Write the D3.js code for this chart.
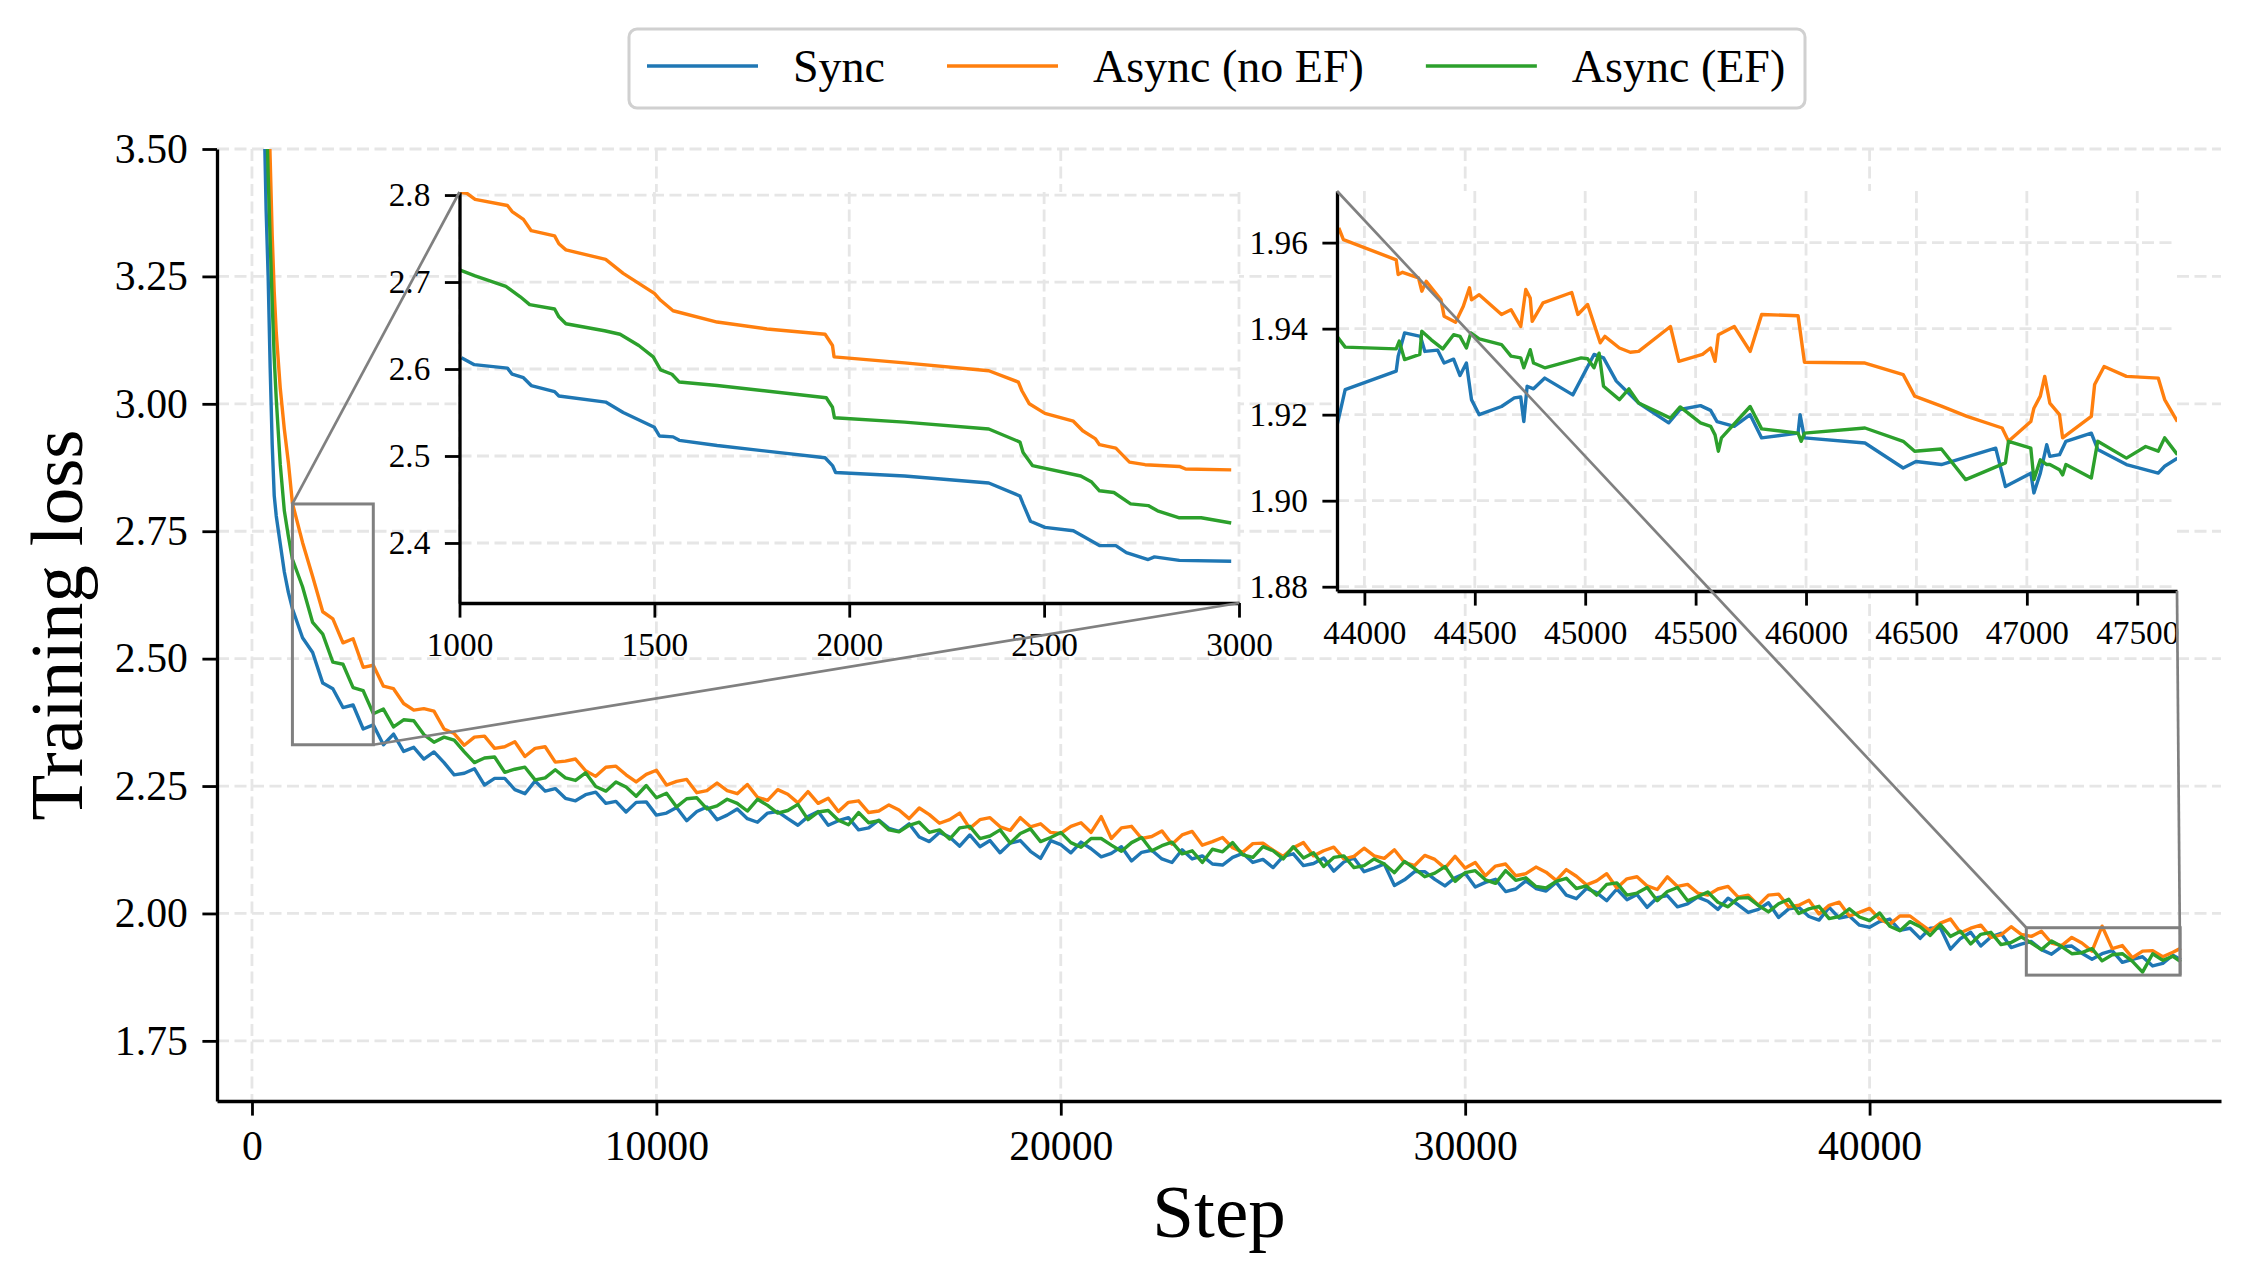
<!DOCTYPE html>
<html>
<head>
<meta charset="utf-8">
<script src="https://cdn.jsdelivr.net/npm/d3@7"></script>
<style>
  body { margin: 0; background: #fff; }
  text { font-family: "Liberation Serif", "Times New Roman", serif; }
</style>
</head>
<body>
<div id="chart"></div>
<script>
// ---------- data ----------
const seriesNames = ["Sync", "Async (no EF)", "Async (EF)"];

const steps = [250, 300, 350, 400, 450, 500, 550, 600, 700, 800, 900,
  1000, 1250, 1500, 1750, 2000, 2250, 2500, 2750, 3000, 3250, 3500, 3750,
  4000, 4250, 4500, 4750, 5000, 5250, 5500, 5750, 6000, 6250, 6500, 6750, 7000, 7250, 7500, 7750,
  8000, 8250, 8500, 8750, 9000, 9250, 9500, 9750, 10000, 10250, 10500, 10750, 11000, 11250, 11500, 11750,
  12000, 12250, 12500, 12750, 13000, 13250, 13500, 13750, 14000, 14250, 14500, 14750, 15000, 15250, 15500, 15750,
  16000, 16250, 16500, 16750, 17000, 17250, 17500, 17750, 18000, 18250, 18500, 18750, 19000, 19250, 19500, 19750,
  20000, 20250, 20500, 20750, 21000, 21250, 21500, 21750, 22000, 22250, 22500, 22750, 23000, 23250, 23500, 23750,
  24000, 24250, 24500, 24750, 25000, 25250, 25500, 25750, 26000, 26250, 26500, 26750, 27000, 27250, 27500, 27750,
  28000, 28250, 28500, 28750, 29000, 29250, 29500, 29750, 30000, 30250, 30500, 30750, 31000, 31250, 31500, 31750,
  32000, 32250, 32500, 32750, 33000, 33250, 33500, 33750, 34000, 34250, 34500, 34750, 35000, 35250, 35500, 35750,
  36000, 36250, 36500, 36750, 37000, 37250, 37500, 37750, 38000, 38250, 38500, 38750, 39000, 39250, 39500, 39750,
  40000, 40250, 40500, 40750, 41000, 41250, 41500, 41750, 42000, 42250, 42500, 42750, 43000, 43250, 43500, 43750,
  44000, 44250, 44500, 44750, 45000, 45250, 45500, 45750, 46000, 46250, 46500, 46750, 47000, 47250, 47500, 47700];

const lossSync = [3.80, 3.57, 3.38, 3.25, 3.07, 2.92, 2.82, 2.78, 2.725, 2.67, 2.63,
  2.598, 2.541, 2.512, 2.452, 2.441, 2.404, 2.409, 2.362, 2.37, 2.331, 2.352, 2.318,
  2.326, 2.303, 2.317, 2.296, 2.272, 2.275, 2.284, 2.252, 2.265, 2.265, 2.243, 2.235, 2.26, 2.24, 2.245, 2.226,
  2.221, 2.233, 2.238, 2.216, 2.22, 2.199, 2.218, 2.219, 2.193, 2.197, 2.208, 2.182, 2.2, 2.209, 2.184, 2.193,
  2.205, 2.186, 2.179, 2.197, 2.2, 2.186, 2.173, 2.19, 2.2, 2.173, 2.182, 2.188, 2.164, 2.168, 2.183, 2.167,
  2.161, 2.176, 2.15, 2.141, 2.159, 2.15, 2.132, 2.154, 2.131, 2.143, 2.119, 2.138, 2.143, 2.122, 2.108, 2.143,
  2.135, 2.119, 2.14, 2.127, 2.111, 2.118, 2.131, 2.103, 2.12, 2.124, 2.107, 2.1, 2.125, 2.107, 2.113, 2.097,
  2.095, 2.11, 2.118, 2.1, 2.106, 2.09, 2.112, 2.117, 2.094, 2.098, 2.109, 2.083, 2.101, 2.109, 2.082, 2.089,
  2.097, 2.055, 2.066, 2.082, 2.082, 2.067, 2.054, 2.07, 2.079, 2.052, 2.061, 2.067, 2.043, 2.048, 2.064, 2.049,
  2.044, 2.061, 2.036, 2.029, 2.049, 2.041, 2.025, 2.048, 2.027, 2.037, 2.012, 2.031, 2.035, 2.013, 2.019, 2.032,
  2.024, 2.008, 2.03, 2.017, 2.002, 2.008, 2.021, 1.992, 2.009, 2.012, 1.994, 1.987, 2.012, 1.991, 1.995, 1.977,
  1.973, 1.984, 1.989, 1.967, 1.971, 1.951, 1.971, 1.972, 1.93, 1.951, 1.963, 1.936, 1.954, 1.961, 1.933, 1.94,
  1.945, 1.929, 1.92, 1.935, 1.936, 1.922, 1.91, 1.921, 1.927, 1.904, 1.91, 1.915, 1.897, 1.902, 1.918, 1.909];

const lossAsyncNoEF = [4.30, 4.00, 3.80, 3.62, 3.48, 3.33, 3.22, 3.14, 3.03, 2.95, 2.885,
  2.805, 2.728, 2.661, 2.592, 2.578, 2.531, 2.539, 2.483, 2.487, 2.446, 2.441, 2.412,
  2.399, 2.402, 2.397, 2.362, 2.353, 2.33, 2.346, 2.348, 2.324, 2.327, 2.337, 2.308, 2.324, 2.327, 2.297, 2.299,
  2.303, 2.28, 2.269, 2.287, 2.289, 2.272, 2.258, 2.273, 2.281, 2.252, 2.259, 2.263, 2.237, 2.241, 2.256, 2.241,
  2.235, 2.253, 2.228, 2.222, 2.243, 2.234, 2.217, 2.239, 2.216, 2.226, 2.2, 2.218, 2.221, 2.198, 2.201, 2.213,
  2.203, 2.186, 2.207, 2.194, 2.177, 2.184, 2.197, 2.167, 2.184, 2.188, 2.17, 2.163, 2.188, 2.17, 2.176, 2.159,
  2.157, 2.171, 2.178, 2.159, 2.19, 2.147, 2.168, 2.171, 2.147, 2.151, 2.162, 2.136, 2.154, 2.161, 2.134, 2.141,
  2.149, 2.129, 2.12, 2.137, 2.138, 2.124, 2.112, 2.129, 2.139, 2.113, 2.123, 2.13, 2.107, 2.112, 2.128, 2.113,
  2.108, 2.125, 2.1, 2.094, 2.114, 2.106, 2.089, 2.112, 2.089, 2.1, 2.074, 2.093, 2.097, 2.074, 2.078, 2.091,
  2.081, 2.065, 2.086, 2.073, 2.056, 2.064, 2.078, 2.05, 2.068, 2.072, 2.054, 2.047, 2.072, 2.053, 2.057, 2.04,
  2.036, 2.048, 2.053, 2.032, 2.036, 2.016, 2.036, 2.038, 2.013, 2.016, 2.026, 1.999, 2.016, 2.022, 1.995, 2.002,
  2.01, 1.989, 1.979, 1.995, 1.995, 1.98, 1.966, 1.981, 1.989, 1.962, 1.971, 1.977, 1.953, 1.958, 1.974, 1.959,
  1.955, 1.965, 1.942, 1.937, 1.953, 1.942, 1.926, 1.975, 1.931, 1.937, 1.913, 1.926, 1.927, 1.915, 1.924, 1.932];

const lossAsyncEF = [4.00, 3.80, 3.60, 3.45, 3.32, 3.20, 3.09, 3.01, 2.88, 2.79, 2.74,
  2.695, 2.641, 2.571, 2.548, 2.493, 2.489, 2.443, 2.437, 2.392, 2.401, 2.366, 2.38,
  2.378, 2.351, 2.336, 2.346, 2.34, 2.317, 2.296, 2.305, 2.307, 2.277, 2.283, 2.287, 2.262, 2.266, 2.282, 2.266,
  2.261, 2.276, 2.249, 2.24, 2.258, 2.248, 2.23, 2.251, 2.227, 2.236, 2.209, 2.225, 2.227, 2.205, 2.211, 2.224,
  2.216, 2.201, 2.224, 2.212, 2.197, 2.202, 2.214, 2.184, 2.199, 2.202, 2.183, 2.174, 2.198, 2.178, 2.182, 2.164,
  2.16, 2.173, 2.179, 2.159, 2.164, 2.146, 2.168, 2.171, 2.147, 2.152, 2.164, 2.138, 2.157, 2.166, 2.141, 2.149,
  2.159, 2.139, 2.13, 2.147, 2.147, 2.134, 2.122, 2.139, 2.149, 2.123, 2.133, 2.14, 2.117, 2.123, 2.1, 2.126,
  2.121, 2.139, 2.115, 2.11, 2.131, 2.123, 2.107, 2.131, 2.109, 2.119, 2.092, 2.11, 2.113, 2.09, 2.094, 2.107,
  2.097, 2.08, 2.102, 2.088, 2.072, 2.079, 2.092, 2.063, 2.08, 2.084, 2.066, 2.059, 2.084, 2.065, 2.07, 2.053,
  2.05, 2.063, 2.069, 2.049, 2.054, 2.036, 2.057, 2.06, 2.036, 2.04, 2.051, 2.025, 2.043, 2.051, 2.025, 2.033,
  2.042, 2.022, 2.013, 2.03, 2.031, 2.016, 2.003, 2.019, 2.028, 2.0, 2.009, 2.014, 1.99, 1.994, 2.009, 1.993,
  1.986, 2.001, 1.975, 1.966, 1.984, 1.974, 1.957, 1.978, 1.955, 1.965, 1.94, 1.959, 1.963, 1.939, 1.943, 1.954,
  1.942, 1.929, 1.946, 1.935, 1.921, 1.923, 1.931, 1.907, 1.919, 1.921, 1.906, 1.885, 1.921, 1.908, 1.916, 1.905];

// zoom 1: steps 1000-3000
const z1StepsSync = [1005, 1038, 1123, 1135, 1164, 1184, 1244, 1255, 1375, 1420, 1500, 1513, 1548, 1564, 1661,
  1938, 1957, 1965, 2142, 2358, 2438, 2446, 2465, 2502, 2575, 2599, 2642, 2684, 2711, 2767, 2783, 2847, 2980];
const z1LossSync = [2.613, 2.605, 2.601, 2.594, 2.590, 2.581, 2.574, 2.569, 2.562, 2.550, 2.533, 2.523, 2.522, 2.518, 2.512,
  2.498, 2.489, 2.481, 2.477, 2.469, 2.454, 2.445, 2.425, 2.418, 2.414, 2.408, 2.397, 2.397, 2.389, 2.381, 2.384, 2.380, 2.379];
const z1StepsNoEF = [1000, 1019, 1040, 1123, 1135, 1164, 1184, 1244, 1255, 1273, 1375, 1420, 1500, 1516, 1548, 1661,
  1789, 1938, 1957, 1961, 2142, 2358, 2434, 2443, 2462, 2502, 2575, 2599, 2631, 2642, 2684, 2719, 2759, 2847, 2863, 2980];
const z1LossNoEF = [2.803, 2.802, 2.795, 2.788, 2.781, 2.772, 2.759, 2.753, 2.744, 2.737, 2.726, 2.710, 2.687, 2.679, 2.667, 2.654,
  2.646, 2.640, 2.627, 2.614, 2.607, 2.598, 2.585, 2.575, 2.560, 2.549, 2.540, 2.529, 2.520, 2.513, 2.509, 2.493, 2.490, 2.488, 2.485, 2.484];
const z1StepsEF = [1000, 1040, 1119, 1156, 1180, 1244, 1255, 1273, 1372, 1412, 1460, 1497, 1516, 1545, 1564, 1661,
  1941, 1957, 1962, 2142, 2358, 2438, 2446, 2470, 2594, 2622, 2642, 2679, 2722, 2767, 2791, 2847, 2903, 2980];
const z1LossEF = [2.714, 2.707, 2.695, 2.683, 2.674, 2.669, 2.660, 2.652, 2.644, 2.640, 2.627, 2.614, 2.599, 2.594, 2.585, 2.581,
  2.567, 2.556, 2.544, 2.539, 2.531, 2.516, 2.504, 2.489, 2.477, 2.470, 2.460, 2.458, 2.445, 2.443, 2.437, 2.429, 2.429, 2.423];

// zoom 2: steps 43900-47700
const z2StepsSync = [43870, 43913, 44144, 44153, 44182, 44254, 44274, 44332, 44361, 44404, 44433, 44462, 44485, 44520, 44621,
  44679, 44708, 44722, 44737, 44766, 44817, 44944, 45040, 45083, 45141, 45242, 45378, 45430, 45522, 45568, 45597, 45675,
  45747, 45799, 45964, 45973, 45993, 46267, 46440, 46498, 46613, 46859, 46903, 47018, 47032, 47061, 47090, 47104, 47148,
  47177, 47292, 47321, 47451, 47595, 47624, 47682];
const z2LossSync = [1.9161, 1.9258, 1.9301, 1.9336, 1.939, 1.9382, 1.9347, 1.935, 1.932, 1.9329, 1.9291, 1.932, 1.9235, 1.92, 1.9219,
  1.9239, 1.9241, 1.9184, 1.9266, 1.926, 1.9285, 1.9246, 1.934, 1.9332, 1.9278, 1.9227, 1.9181, 1.9212, 1.9221, 1.921, 1.9184, 1.9173,
  1.92, 1.9146, 1.9157, 1.92, 1.9146, 1.9134, 1.9076, 1.9091, 1.9084, 1.9122, 1.9033, 1.9064, 1.9018, 1.9064, 1.913, 1.9103, 1.9107,
  1.9138, 1.9157, 1.9119, 1.9084, 1.9064, 1.908, 1.9099];
const z2StepsNoEF = [43884, 43905, 44144, 44153, 44173, 44245, 44260, 44280, 44347, 44361, 44413, 44448, 44476, 44485, 44520,
  44621, 44664, 44708, 44731, 44751, 44760, 44809, 44939, 44967, 45011, 45068, 45089, 45155, 45204, 45242, 45386, 45424,
  45531, 45568, 45588, 45603, 45675, 45747, 45799, 45964, 45993, 46267, 46440, 46492, 46613, 46729, 46888, 46917, 47018,
  47032, 47061, 47081, 47104, 47148, 47162, 47292, 47307, 47350, 47451, 47595, 47624, 47682];
const z2LossNoEF = [1.9634, 1.9607, 1.956, 1.9526, 1.9531, 1.9518, 1.9487, 1.951, 1.9467, 1.9429, 1.9415, 1.9452, 1.9495, 1.9467, 1.9479,
  1.9433, 1.9444, 1.9405, 1.9491, 1.9471, 1.9417, 1.946, 1.9484, 1.9433, 1.9456, 1.9367, 1.9382, 1.9355, 1.9345, 1.9347, 1.9405, 1.9324,
  1.934, 1.9355, 1.9324, 1.9386, 1.9405, 1.9347, 1.9433, 1.943, 1.9322, 1.932, 1.9293, 1.9243, 1.922, 1.9196, 1.9169, 1.9138, 1.9184,
  1.9215, 1.9243, 1.9289, 1.9227, 1.92, 1.9146, 1.9196, 1.927, 1.9312, 1.9289, 1.9285, 1.9235, 1.9184];
const z2StepsEF = [43876, 43913, 44144, 44158, 44182, 44251, 44260, 44303, 44355, 44404, 44433, 44462, 44482, 44520, 44621,
  44664, 44708, 44722, 44751, 44766, 44817, 44982, 45011, 45040, 45063, 45083, 45155, 45198, 45242, 45386, 45430, 45522,
  45568, 45588, 45603, 45617, 45747, 45799, 45964, 45978, 45993, 46267, 46440, 46492, 46613, 46723, 46903, 46917, 47018,
  47032, 47061, 47090, 47104, 47148, 47162, 47177, 47292, 47321, 47451, 47538, 47595, 47624, 47682];
const z2LossEF = [1.9382, 1.9357, 1.9353, 1.9371, 1.9328, 1.934, 1.9394, 1.9374, 1.9353, 1.9386, 1.9382, 1.9355, 1.939, 1.9376, 1.9363,
  1.9336, 1.9332, 1.9309, 1.9351, 1.932, 1.9309, 1.9332, 1.933, 1.9309, 1.9343, 1.9266, 1.9235, 1.926, 1.9227, 1.9192, 1.9218, 1.9181,
  1.9173, 1.9153, 1.9115, 1.9146, 1.9219, 1.9167, 1.9157, 1.9138, 1.9157, 1.9169, 1.9138, 1.9115, 1.912, 1.9049, 1.9088, 1.9138, 1.9122,
  1.9049, 1.9095, 1.9084, 1.9084, 1.9072, 1.906, 1.9084, 1.9053, 1.9138, 1.9099, 1.9126, 1.9115, 1.9146, 1.9107];

// tick values
const xTicks = [0, 10000, 20000, 30000, 40000];
const yTicks = [1.75, 2.0, 2.25, 2.5, 2.75, 3.0, 3.25, 3.5];
const z1XTicks = [1000, 1500, 2000, 2500, 3000];
const z1YTicks = [2.4, 2.5, 2.6, 2.7, 2.8];
const z2XTicks = [44000, 44500, 45000, 45500, 46000, 46500, 47000, 47500];
const z2YTicks = [1.88, 1.90, 1.92, 1.94, 1.96];

// ---------- layout ----------
const W = 2248, H = 1283;
const colors = ["#1f77b4", "#ff7f0e", "#2ca02c"];
const gridColor = "#e6e6e6";
const serif = '"Liberation Serif", "Times New Roman", serif';
const lineW = 3.4;

const svg = d3.select("#chart").append("svg")
    .attr("width", W)
    .attr("height", H)
    .style("background", "#fff");

const mainBox = { left: 217, right: 2221, top: 149, bottom: 1101 };
const z1Box = { left: 459.5, right: 1239, top: 192, bottom: 603 };
const z2Box = { left: 1337, right: 2177, top: 191, bottom: 591 };

const x = d3.scaleLinear().domain([-865, 48690]).range([mainBox.left, mainBox.right]);
const y = d3.scaleLinear().domain([1.632, 3.5]).range([mainBox.bottom, mainBox.top]);
const x1 = d3.scaleLinear().domain([1000, 3000]).range([z1Box.left, z1Box.right]);
const y1 = d3.scaleLinear().domain([2.331, 2.8035]).range([z1Box.bottom, z1Box.top]);
const x2 = d3.scaleLinear().domain([43876, 47680]).range([z2Box.left, z2Box.right]);
const y2 = d3.scaleLinear().domain([1.879, 1.972]).range([z2Box.bottom, z2Box.top]);

const defs = svg.append("defs");
function clip(id, b) {
    defs.append("clipPath").attr("id", id).append("rect")
        .attr("x", b.left).attr("y", b.top)
        .attr("width", b.right - b.left).attr("height", b.bottom - b.top);
}
clip("clip-main", mainBox);
clip("clip-z1", z1Box);
clip("clip-z2", z2Box);

// dashed grid
function grid(g, xs, ys, xt, yt, b) {
    g.selectAll(null).data(xt).join("line")
        .attr("x1", d => xs(d)).attr("x2", d => xs(d))
        .attr("y1", b.top).attr("y2", b.bottom);
    g.selectAll(null).data(yt).join("line")
        .attr("x1", b.left).attr("x2", b.right)
        .attr("y1", d => ys(d)).attr("y2", d => ys(d));
    g.selectAll("line")
        .attr("stroke", gridColor)
        .attr("stroke-width", 2.8)
        .attr("stroke-dasharray", "12,5.5");
}

function drawLines(g, xs, ys, sets, clipId) {
    const line = d3.line().x(d => xs(d[0])).y(d => ys(d[1]));
    g.attr("clip-path", `url(#${clipId})`)
        .selectAll("path").data(sets).join("path")
        .attr("fill", "none")
        .attr("stroke", (d, i) => colors[i])
        .attr("stroke-width", lineW)
        .attr("stroke-linejoin", "round")
        .attr("d", line);
}

function axes(g, xs, ys, xt, yt, xf, yf, fs, b) {
    const gx = g.append("g").attr("transform", `translate(0,${b.bottom})`)
        .call(d3.axisBottom(xs).tickValues(xt).tickFormat(xf)
            .tickSize(14.6).tickSizeOuter(0).tickPadding(14.6));
    const gy = g.append("g").attr("transform", `translate(${b.left},0)`)
        .call(d3.axisLeft(ys).tickValues(yt).tickFormat(yf)
            .tickSize(14.6).tickSizeOuter(0).tickPadding(14.6));
    [gx, gy].forEach(a => {
        a.attr("font-family", serif).attr("font-size", fs);
        a.select(".domain").attr("stroke", "#000").attr("stroke-width", 3.3);
        a.selectAll(".tick line").attr("stroke", "#000").attr("stroke-width", 2.8);
        a.selectAll(".tick text").attr("fill", "#000");
    });
}

// ---------- main plot ----------
const mainSets = [lossSync, lossAsyncNoEF, lossAsyncEF].map(v => d3.zip(steps, v));
grid(svg.append("g"), x, y, xTicks, yTicks, mainBox);
drawLines(svg.append("g"), x, y, mainSets, "clip-main");

// zoom boxes on the main plot
const zoomRects = [
    { x0: 1000, x1: 3000, y0: 2.331, y1: 2.8035, box: z1Box },
    { x0: 43876, x1: 47680, y0: 1.879, y1: 1.972, box: z2Box }
];
svg.append("g").selectAll("rect").data(zoomRects).join("rect")
    .attr("x", d => x(d.x0))
    .attr("y", d => y(d.y1))
    .attr("width", d => x(d.x1) - x(d.x0))
    .attr("height", d => y(d.y0) - y(d.y1))
    .attr("fill", "none")
    .attr("stroke", "#808080")
    .attr("stroke-width", 3);

// ---------- inset 1 ----------
const z1 = svg.append("g");
z1.append("rect").attr("x", z1Box.left).attr("y", z1Box.top)
    .attr("width", z1Box.right - z1Box.left).attr("height", z1Box.bottom - z1Box.top)
    .attr("fill", "#fff");
grid(z1.append("g"), x1, y1, z1XTicks, z1YTicks, z1Box);
drawLines(z1.append("g"), x1, y1,
    [d3.zip(z1StepsSync, z1LossSync), d3.zip(z1StepsNoEF, z1LossNoEF), d3.zip(z1StepsEF, z1LossEF)], "clip-z1");
axes(z1, x1, y1, z1XTicks, z1YTicks, d3.format("d"), d3.format(".1f"), 33.3, z1Box);

// ---------- inset 2 ----------
const z2 = svg.append("g");
z2.append("rect").attr("x", z2Box.left).attr("y", z2Box.top)
    .attr("width", z2Box.right - z2Box.left).attr("height", z2Box.bottom - z2Box.top)
    .attr("fill", "#fff");
grid(z2.append("g"), x2, y2, z2XTicks, z2YTicks, z2Box);
drawLines(z2.append("g"), x2, y2,
    [d3.zip(z2StepsSync, z2LossSync), d3.zip(z2StepsNoEF, z2LossNoEF), d3.zip(z2StepsEF, z2LossEF)], "clip-z2");
axes(z2, x2, y2, z2XTicks, z2YTicks, d3.format("d"), d3.format(".2f"), 33.3, z2Box);

// connectors: upper-left to upper-left, lower-right to lower-right
const conn = [];
zoomRects.forEach(r => {
    conn.push([x(r.x0), y(r.y1), r.box.left, r.box.top]);
    conn.push([x(r.x1), y(r.y0), r.box.right, r.box.bottom]);
});
svg.append("g").selectAll("line").data(conn).join("line")
    .attr("x1", d => d[0]).attr("y1", d => d[1])
    .attr("x2", d => d[2]).attr("y2", d => d[3])
    .attr("stroke", "#808080")
    .attr("stroke-width", 2.7);

// main axes on top
axes(svg.append("g"), x, y, xTicks, yTicks, d3.format("d"), d3.format(".2f"), 41.7, mainBox);

// axis labels
svg.append("text")
    .attr("x", (mainBox.left + mainBox.right) / 2)
    .attr("y", 1237)
    .attr("text-anchor", "middle")
    .attr("font-size", 75)
    .text("Step");
svg.append("text")
    .attr("transform", `translate(82,${(mainBox.top + mainBox.bottom) / 2}) rotate(-90)`)
    .attr("text-anchor", "middle")
    .attr("font-size", 75)
    .text("Training loss");

// ---------- legend ----------
const legend = svg.append("g");
legend.append("rect")
    .attr("x", 629).attr("y", 29)
    .attr("width", 1176).attr("height", 79)
    .attr("rx", 8)
    .attr("fill", "#fff")
    .attr("stroke", "#d0d0d0")
    .attr("stroke-width", 3);
let lx = 647;
seriesNames.forEach((name, i) => {
    legend.append("line")
        .attr("x1", lx).attr("x2", lx + 111)
        .attr("y1", 66).attr("y2", 66)
        .attr("stroke", colors[i])
        .attr("stroke-width", lineW);
    const t = legend.append("text")
        .attr("x", lx + 146).attr("y", 82)
        .attr("font-size", 46)
        .text(name);
    lx = lx + 146 + t.node().getComputedTextLength() + 62;
});
</script>
</body>
</html>
